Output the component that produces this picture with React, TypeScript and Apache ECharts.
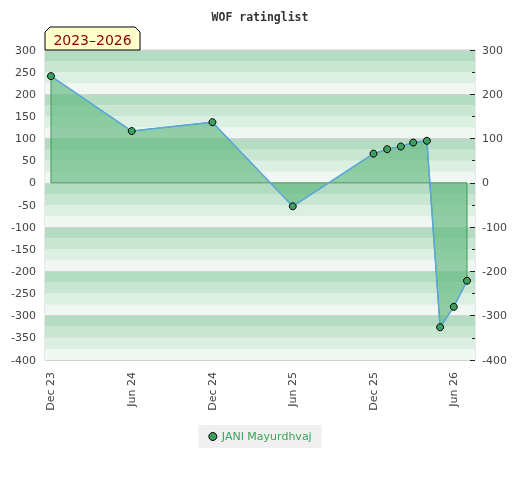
import React, { useEffect, useRef } from "react";
import * as echarts from "echarts";

const seriesName = "JANI Mayurdhvaj";
const dates = [
  "2023-12-01", "2024-06-01", "2024-12-01", "2025-06-01", "2025-12-01", "2026-01-01",
  "2026-02-01", "2026-03-01", "2026-04-01", "2026-05-01", "2026-06-01", "2026-07-01",
];
const ratings = [241, 117, 137, -53, 66, 76, 82, 91, 95, -326, -280, -221];
const tickDates = ["2023-12-01", "2024-06-01", "2024-12-01", "2025-06-01", "2025-12-01", "2026-06-01"];
const tickLabels = ["Dec 23", "Jun 24", "Dec 24", "Jun 25", "Dec 25", "Jun 26"];
const xMinDate = "2023-11-17T10:00:00Z";
const xMaxDate = "2026-07-19T02:00:00Z";
const yMin = -400;
const yMax = 300;

const ts = (s: string) => new Date(s.length === 10 ? s + "T00:00:00Z" : s).getTime();

export default function App() {
  const ref = useRef<HTMLDivElement>(null);
  useEffect(() => {
    if (!ref.current) return;
    const chart = echarts.init(ref.current, null, { renderer: "svg" });
    const times = dates.map(ts);
    const data = times.map((t, i) => [t, ratings[i]]);
    const tickTimes = tickDates.map(ts);
    const font = "DejaVu Sans";

    chart.setOption({
      animation: false,
      title: {
        text: "WOF ratinglist",
        left: "center",
        top: 6,
        textStyle: { fontFamily: "DejaVu Sans Mono", fontWeight: "bold", fontSize: 11.5, color: "#333" },
      },
      grid: { left: 45, right: 45, top: 50, bottom: 120, show: true, borderColor: "#cfcfcf", borderWidth: 1, backgroundColor: "transparent" },
      legend: {
        data: [seriesName],
        top: 425,
        left: "center",
        icon: "circle",
        itemWidth: 8,
        itemHeight: 8,
        padding: [6, 10, 6, 10],
        backgroundColor: "#f0f0f0",
        itemStyle: { color: "#3f9f5f", borderColor: "#000", borderWidth: 1 },
        textStyle: { color: "#3aa35a", fontFamily: font, fontSize: 11 },
      },
      xAxis: {
        type: "value",
        min: ts(xMinDate),
        max: ts(xMaxDate),
        axisLine: { show: false },
        axisTick: { show: false },
        splitLine: { show: false },
        axisLabel: {
          customValues: tickTimes,
          rotate: 90,
          margin: 12,
          fontFamily: font,
          fontSize: 11,
          color: "#444",
          formatter: (v: number) => {
            const i = tickTimes.indexOf(v);
            return i >= 0 ? tickLabels[i] : "";
          },
        },
      },
      yAxis: [
        {
          type: "value",
          min: yMin,
          max: yMax,
          interval: 25,
          position: "left",
          z: 0,
          axisLine: { show: false },
          axisTick: { show: false },
          axisLabel: { show: false },
          splitLine: { show: false },
          splitArea: { show: true, areaStyle: { color: ["#f0f7f2", "#dcefe3", "#c8e6d2", "#b3dcc1"] } },
        },
        {
          type: "value",
          min: yMin,
          max: yMax,
          interval: 50,
          position: "left",
          z: 1,
          axisLine: { show: false },
          axisTick: { show: false },
          splitLine: { show: false },
          axisLabel: { margin: 9, fontFamily: font, fontSize: 11, color: "#444" },
        },
        {
          type: "value",
          min: yMin,
          max: yMax,
          interval: 100,
          position: "right",
          z: 1,
          axisLine: { show: false },
          axisTick: { show: true, inside: true, length: 5, lineStyle: { color: "#222" } },
          minorTick: { show: true, splitNumber: 2, length: 3, lineStyle: { color: "#222" } },
          splitLine: { show: true, lineStyle: { color: "#d2d2d2", width: 1 } },
          axisLabel: { margin: 7, fontFamily: font, fontSize: 11, color: "#444" },
        },
      ],
      series: [
        {
          type: "custom",
          name: "area",
          yAxisIndex: 1,
          z: 1,
          silent: true,
          data: data,
          encode: { x: 0, y: 1 },
          renderItem: (params: any, api: any) => {
            if (params.dataIndex !== 0) return null;
            const pts = times.map((t, i) => api.coord([t, ratings[i]]));
            pts.push(api.coord([times[times.length - 1], 0]));
            pts.push(api.coord([times[0], 0]));
            return {
              type: "polygon",
              shape: { points: pts },
              style: { fill: "rgba(100,186,128,0.68)", stroke: "#3d9b5a", lineWidth: 1 },
            };
          },
        },
        {
          type: "line",
          name: seriesName,
          yAxisIndex: 1,
          z: 3,
          data: data,
          symbol: "circle",
          symbolSize: 7,
          lineStyle: { color: "#5aa7de", width: 1.5 },
          itemStyle: { color: "#3f9f5f", borderColor: "#000", borderWidth: 1 },
        },
      ],
      graphic: [
        {
          type: "polygon",
          z: 100,
          shape: { points: [[45, 50], [45, 32], [50, 27], [135, 27], [140, 32], [140, 50]] },
          style: { fill: "#ffffcc", stroke: "#000", lineWidth: 1 },
        },
        {
          type: "text",
          z: 101,
          x: 92.5,
          y: 40,
          style: {
            text: "2023–2026",
            fill: "#8b0000",
            font: "14px 'DejaVu Sans'",
            align: "center",
            verticalAlign: "middle",
          },
        },
      ],
    });
    return () => chart.dispose();
  }, []);
  return <div ref={ref} style={{ position: "fixed", left: 0, top: 0, width: 520, height: 480 }} />;
}
